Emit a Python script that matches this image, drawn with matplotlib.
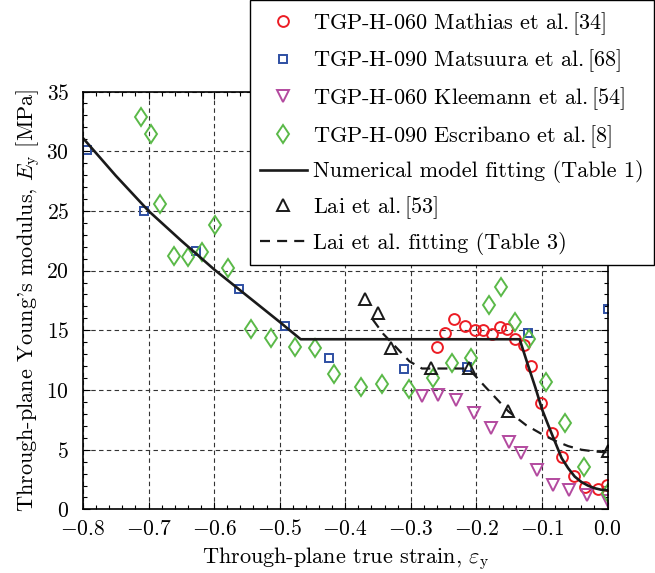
import numpy as np
import matplotlib
matplotlib.use("Agg")
import matplotlib.pyplot as plt
from matplotlib.ticker import MultipleLocator

plt.rcParams["font.family"] = "serif"
plt.rcParams["font.serif"] = ["cmr10"]
plt.rcParams["mathtext.fontset"] = "cm"
plt.rcParams["axes.formatter.use_mathtext"] = True

# Werte
mathias_x = [-0.2605, -0.2478, -0.2341, -0.2173, -0.2021, -0.1894, -0.1766, -0.1639, -0.1528, -0.1411,
             -0.1273, -0.1171, -0.1019, -0.0851, -0.0698, -0.0511, -0.0343, -0.0140, -0.0012]
mathias_y = [13.63, 14.80, 15.97, 15.36, 15.03, 15.03, 14.69, 15.30, 15.08, 14.30,
             13.74, 12.00, 8.94, 6.42, 4.41, 2.82, 1.85, 1.68, 2.04]

matsuura_x = [-0.794, -0.707, -0.628, -0.5625, -0.492, -0.425, -0.311, -0.215, -0.121, 0.0]
matsuura_y = [30.1, 25.0, 21.6, 18.5, 15.36, 12.65, 11.73, 11.95, 14.8, 16.76]

kleemann_x = [-0.2834, -0.258, -0.2311, -0.2036, -0.1784, -0.1498, -0.1319, -0.108, -0.0826, -0.0587, -0.0317, 0.0]
kleemann_y = [9.5, 9.58, 9.16, 8.05, 6.8, 5.67, 4.7, 3.3, 2.04, 1.62, 1.21, 0.7]

escribano_x = [-0.7115, -0.6967, -0.6826, -0.6607, -0.6394, -0.618, -0.5982, -0.5784, -0.5445, -0.5137,
               -0.4759, -0.4461, -0.4168, -0.3764, -0.3444, -0.3023, -0.2669, -0.2375, -0.2085, -0.1815,
               -0.1629, -0.1406, -0.1192, -0.0938, -0.0648, -0.0358, 0.0]
escribano_y = [32.9, 31.4, 25.55, 21.25, 21.17, 21.58, 23.8, 20.25, 15.15, 14.33,
               13.63, 13.54, 11.34, 10.28, 10.5, 10.08, 10.98, 12.29, 12.65, 17.1,
               18.65, 15.72, 14.3, 10.7, 7.26, 3.58, 1.35]

num_fit_x = [-0.8, -0.75, -0.70, -0.65, -0.60, -0.55, -0.50, -0.468, -0.134, -0.122, -0.110,
             -0.100, -0.090, -0.080, -0.070, -0.060, -0.050, -0.040, -0.030, -0.020, -0.010, 0.0]
num_fit_y = [31.1, 27.95, 25.0, 22.5, 20.1, 17.9, 15.7, 14.25, 14.25, 12.2, 10.2,
             8.4, 7.0, 5.65, 4.3, 3.45, 2.75, 2.3, 2.0, 1.78, 1.65, 1.6]

lai_x = [-0.3699, -0.3496, -0.3302, -0.2697, -0.2108, -0.1513, 0.0]
lai_y = [17.6, 16.42, 13.49, 11.82, 11.87, 8.24, 4.92]

lai_fit_x = [-0.358, -0.342, -0.302, -0.283, -0.212, -0.187, -0.151, -0.124, -0.100,
             -0.080, -0.060, -0.040, -0.020, 0.0]
lai_fit_y = [15.9, 14.7, 12.4, 11.8, 11.8, 10.3, 8.2, 7.05, 6.3,
             5.75, 5.3, 5.0, 4.85, 4.78]

labels = [
    r"TGP-H-060 Mathias et al.$\,$[34]",
    r"TGP-H-090 Matsuura et al.$\,$[68]",
    r"TGP-H-060 Kleemann et al.$\,$[54]",
    r"TGP-H-090 Escribano et al.$\,$[8]",
    "Numerical model fitting (Table 1)",
    r"Lai et al.$\,$[53]",
    "Lai et al. fitting (Table 3)",
]

fig = plt.figure(figsize=(6.55, 5.73), dpi=100)
ax = fig.add_axes([0.1267, 0.111, 0.8008, 0.7293])

mkw = dict(linestyle="none", markerfacecolor="none", markeredgewidth=1.4)
h1, = ax.plot(mathias_x, mathias_y, marker="o", markersize=7.8, markeredgecolor="#ec1c24", **mkw)
h2, = ax.plot(matsuura_x, matsuura_y, marker="s", markersize=6.2, markeredgecolor="#2e4fa3", **mkw)
h3, = ax.plot(kleemann_x, kleemann_y, marker="v", markersize=8, markeredgecolor="#b34a9f", **mkw)
h4, = ax.plot(escribano_x, escribano_y, marker="d", markersize=9.5, markeredgecolor="#5ab948", **mkw)
h6, = ax.plot(lai_x, lai_y, marker="^", markersize=8, markeredgecolor="#1a1a1a", **mkw)
h5, = ax.plot(num_fit_x, num_fit_y, color="#1a1a1a", lw=1.9)
h7, = ax.plot(lai_fit_x, lai_fit_y, color="#1a1a1a", lw=1.6, linestyle=(0, (4.5, 3.2)))

ax.set_xlim(-0.8, 0)
ax.set_ylim(0, 35)
ax.xaxis.set_major_locator(MultipleLocator(0.1))
ax.xaxis.set_minor_locator(MultipleLocator(0.02))
ax.yaxis.set_major_locator(MultipleLocator(5))
ax.yaxis.set_minor_locator(MultipleLocator(1))
ax.tick_params(which="both", direction="in", top=True, right=True, labelsize=15.5, width=0.8)
ax.tick_params(which="major", length=5, pad=7)
ax.tick_params(which="minor", length=3)
ax.tick_params(axis="y", which="major", pad=10)
ax.grid(True, which="major", color="0.2", lw=0.8, linestyle=(0, (4, 3)))
for s in ax.spines.values():
    s.set_linewidth(1.2)

ax.set_xlabel(r"Through-plane true strain, $\varepsilon_{\mathrm{y}}$", fontsize=16, labelpad=4)
ax.set_ylabel(r"Through-plane Young's modulus, $E_{\mathrm{y}}$ [MPa]", fontsize=16)
ax.yaxis.set_label_coords(-0.078, 0.5)

leg = fig.legend([h1, h2, h3, h4, h5, h6, h7], labels, loc="lower right",
                 bbox_to_anchor=(654 / 655, 1 - 265 / 573), fontsize=16, borderaxespad=0,
                 frameon=True, fancybox=False, framealpha=1, edgecolor="black",
                 handlelength=2.1, handletextpad=0.3, borderpad=0.45, labelspacing=0.49)
leg.get_frame().set_linewidth(1.0)

fig.savefig("out.png", dpi=100)
